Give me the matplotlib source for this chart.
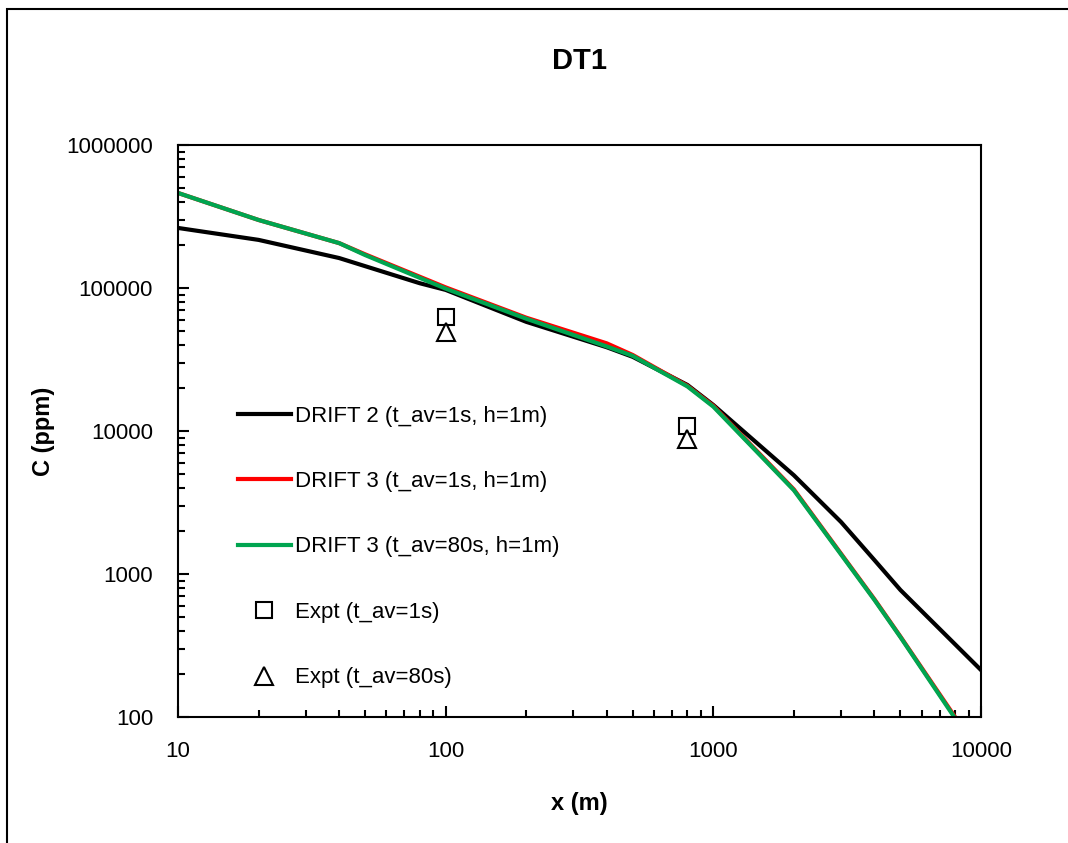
import matplotlib.pyplot as plt
from matplotlib.patches import Rectangle

plt.rcParams['font.family'] = ['Liberation Sans', 'DejaVu Sans']

# DRIFT 2 (t_av=1s, h=1m)
x_d2 = [10, 20, 40, 80, 100, 200, 400, 500, 800, 1000, 2000, 3000, 4000, 5000, 10000]
c_d2 = [263000, 217000, 162000, 108000, 97000, 58000, 38500, 33000, 21000, 15200, 4900, 2310, 1250, 773, 213]

# DRIFT 3 (t_av=1s, h=1m)
x_d3 = [10, 20, 40, 50, 100, 200, 400, 500, 800, 1000, 2000, 4000, 5000, 8000]
c_d3a = [462000, 299000, 206000, 172000, 101000, 62000, 41000, 34000, 20700, 15000, 3900, 665, 365, 100]
# DRIFT 3 (t_av=80s, h=1m)
c_d3b = [462000, 299000, 206000, 170000, 99000, 61000, 39000, 33500, 20500, 14800, 3850, 658, 362, 98]

# experiments
x_exp = [100, 800]
c_exp1 = [62700, 10800]
c_exp80 = [49200, 8800]

fig = plt.figure(figsize=(10.68, 8.43), dpi=100)
ax = fig.add_axes([178/1068, 1-717/843, (981-178)/1068, (717-145)/843])

# chart area border (only left and top visible)
fig.patches.append(Rectangle((7/1068, -0.1), 1.2, 1-9/843+0.1, transform=fig.transFigure,
                             fill=False, edgecolor='black', linewidth=1.5))

ax.plot(x_d2, c_d2, color='black', linewidth=3, label='DRIFT 2 (t_av=1s, h=1m)')
ax.plot(x_d3, c_d3a, color='#ff0000', linewidth=3, label='DRIFT 3 (t_av=1s, h=1m)')
ax.plot(x_d3, c_d3b, color='#00a550', linewidth=3, label='DRIFT 3 (t_av=80s, h=1m)')
ax.plot(x_exp, c_exp1, 's', markersize=12, markerfacecolor='white', markeredgecolor='black',
        markeredgewidth=1.5, label='Expt (t_av=1s)')
ax.plot(x_exp, c_exp80, '^', markersize=13, markerfacecolor='white', markeredgecolor='black',
        markeredgewidth=1.5, label='Expt (t_av=80s)')

ax.set_xscale('log')
ax.set_yscale('log')
ax.set_xlim(10, 10000)
ax.set_ylim(100, 1000000)
ax.set_xticks([10, 100, 1000, 10000])
ax.set_xticklabels(['10', '100', '1000', '10000'])
ax.set_yticks([100, 1000, 10000, 100000, 1000000])
ax.set_yticklabels(['100', '1000', '10000', '100000', '1000000'])
ax.tick_params(which='major', direction='in', length=8, width=1.5, labelsize=16)
ax.tick_params(which='minor', direction='in', length=5, width=1.5)
ax.tick_params(axis='x', pad=17)
ax.tick_params(axis='y', pad=18)
for s in ax.spines.values():
    s.set_linewidth(1.5)

ax.set_title('DT1', fontsize=21, fontweight='bold', pad=55)
ax.set_xlabel('x (m)', fontsize=17, fontweight='bold', labelpad=22)
ax.set_ylabel('C (ppm)', fontsize=17, fontweight='bold', labelpad=8)

leg = ax.legend(loc='upper left', bbox_to_anchor=(0.064, 0.56), frameon=False, fontsize=16,
                handlelength=2.35, handletextpad=0.22, labelspacing=2.0, borderaxespad=0)

plt.savefig('out.png', dpi=100)
